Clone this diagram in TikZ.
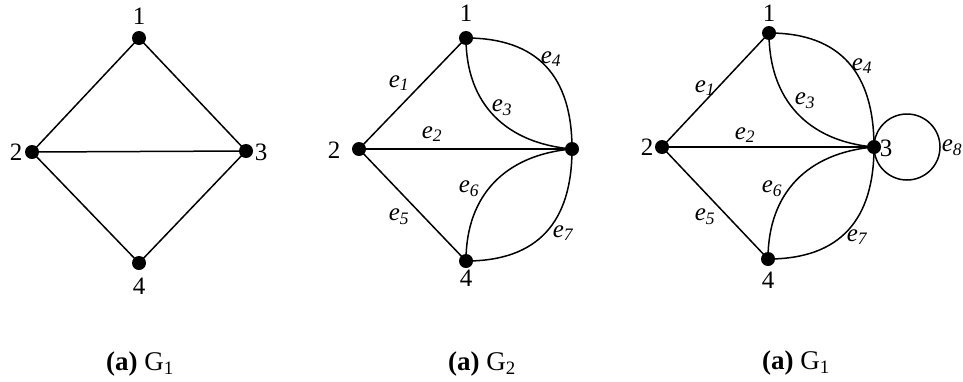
\documentclass[tikz,border=0pt]{standalone}
\usepackage{fontspec}
\setmainfont{Liberation Serif}
\begin{document}
\begin{tikzpicture}[x=1pt,y=-1pt,
  dot/.style={circle,fill=black,inner sep=0pt,minimum size=14pt},
  vlab/.style={inner sep=0pt,font=\fontsize{25}{27}\selectfont},
  elab/.style={inner sep=0pt,font=\fontsize{25}{27}\selectfont\itshape},
  captxt/.style={inner sep=0pt,font=\fontsize{27}{30}\selectfont},
  edge/.style={line width=1.5pt}]
\useasboundingbox[fill=white] (0,0) rectangle (963,381);

% ---------- Graph 1 ----------
\node[dot] (a1) at (139,38) {};
\node[dot] (a2) at (32,152) {};
\node[dot] (a3) at (246,151) {};
\node[dot] (a4) at (139,263) {};
\node[vlab] (a1l) at (139,16) {1};
\node[vlab] (a2l) at (16,152) {2};
\node[vlab] (a3l) at (261,152) {3};
\node[vlab] (a4l) at (139,286) {4};
\draw[edge] (a1.center) -- (a2.center) -- (a4.center) -- (a3.center) -- (a1.center);
\draw[edge] (a2.center) -- (a3.center);
\node[captxt] (acap) at (140,364) {\textbf{(a)} G\textsubscript{1}};

% ---------- Graph 2 ----------
\node[dot] (b1) at (466,38) {};
\node[dot] (b2) at (359,149) {};
\node[dot] (b3) at (572,149) {};
\node[dot] (b4) at (466,261) {};
\node[vlab] (b1l) at (466,13) {1};
\node[vlab] (b2l) at (334,150) {2};
\node[vlab] (b4l) at (466,278) {4};
\draw[edge] (b2.center) -- (b1.center);
\draw[edge] (b2.center) -- (b3.center);
\draw[edge] (b2.center) -- (b4.center);
\draw[edge] (b1.center) to[out=-90,in=175,looseness=1.1] (b3.center);
\draw[edge] (b1.center) to[out=0,in=90,looseness=1.2] (b3.center);
\draw[edge] (b4.center) to[out=90,in=-175,looseness=1.1] (b3.center);
\draw[edge] (b4.center) to[out=0,in=-90,looseness=1.2] (b3.center);
\node[elab] (be1) at (399,83) {e\textsubscript{1}};
\node[elab] (be2) at (432,134) {e\textsubscript{2}};
\node[elab] (be3) at (502,108) {e\textsubscript{3}};
\node[elab] (be4) at (551,59) {e\textsubscript{4}};
\node[elab] (be5) at (399,217) {e\textsubscript{5}};
\node[elab] (be6) at (469,189) {e\textsubscript{6}};
\node[elab] (be7) at (563,233) {e\textsubscript{7}};
\node[captxt] (bcap) at (482,364) {\textbf{(a)} G\textsubscript{2}};

% ---------- Graph 3 ----------
\node[dot] (c1) at (769,33) {};
\node[dot] (c2) at (662,147) {};
\node[dot] (c3) at (874,147) {};
\node[dot] (c4) at (768,259) {};
\node[vlab] (c1l) at (769,13) {1};
\node[vlab] (c2l) at (647,147) {2};
\node[vlab] (c3l) at (886,148) {3};
\node[vlab] (c4l) at (768,280) {4};
\draw[edge] (c2.center) -- (c1.center);
\draw[edge] (c2.center) -- (c3.center);
\draw[edge] (c2.center) -- (c4.center);
\draw[edge] (c1.center) to[out=-90,in=175,looseness=1.1] (c3.center);
\draw[edge] (c1.center) to[out=0,in=90,looseness=1.2] (c3.center);
\draw[edge] (c4.center) to[out=90,in=-175,looseness=1.1] (c3.center);
\draw[edge] (c4.center) to[out=0,in=-90,looseness=1.2] (c3.center);
\draw[edge] (c3.center) arc[start angle=180,delta angle=360,radius=33];
\node[elab] (ce1) at (705,88) {e\textsubscript{1}};
\node[elab] (ce2) at (745,135) {e\textsubscript{2}};
\node[elab] (ce3) at (805,101) {e\textsubscript{3}};
\node[elab] (ce4) at (862,66) {e\textsubscript{4}};
\node[elab] (ce5) at (705,217) {e\textsubscript{5}};
\node[elab] (ce6) at (772,189) {e\textsubscript{6}};
\node[elab] (ce7) at (857,237) {e\textsubscript{7}};
\node[elab] (ce8) at (952,148) {e\textsubscript{8}};
\node[captxt] (ccap) at (796,363) {\textbf{(a)} G\textsubscript{1}};
\end{tikzpicture}
\end{document}
